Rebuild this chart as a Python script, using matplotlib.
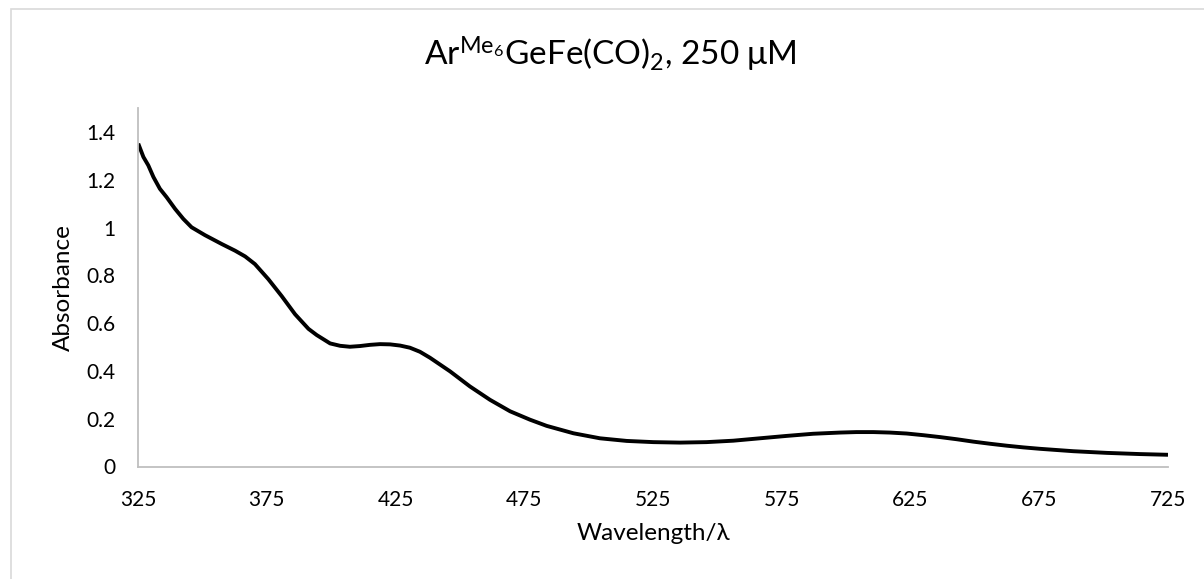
import numpy as np
import matplotlib
matplotlib.use('Agg')
import matplotlib.pyplot as plt
from matplotlib.patches import Rectangle

plt.rcParams['font.family'] = ['Lato', 'DejaVu Sans']
plt.rcParams['mathtext.fontset'] = 'custom'
plt.rcParams['mathtext.rm'] = 'Lato'
plt.rcParams['mathtext.it'] = 'Lato:italic'

# spectrum
wavelength = [325.1, 327.1, 329, 331, 333.5, 336.1, 339.4, 342.6, 345.8, 351,
              357.5, 362.7, 366.6, 370.4, 375.6, 380.8, 386, 391.2, 394.4, 399.6,
              403.5, 407.3, 411.2, 415.1, 419, 422.9, 426.8, 430.6, 434.5, 438.4,
              446.2, 453.9, 461.7, 469.5, 477.2, 483.7, 494.1, 504.4, 514.8, 525.1,
              535.5, 545.8, 556.2, 566.5, 576.9, 587.2, 597.6, 604, 610.6, 617,
              623.5, 630, 636.5, 643, 649.4, 656, 662.4, 668.8, 675.3, 688.2,
              701.2, 714.1, 725]
absorbance = [1.351, 1.295, 1.26, 1.211, 1.162, 1.127, 1.078, 1.036, 1.001, 0.968,
              0.931, 0.903, 0.879, 0.847, 0.784, 0.713, 0.637, 0.576, 0.55, 0.515,
              0.505, 0.501, 0.504, 0.509, 0.512, 0.511, 0.506, 0.497, 0.48, 0.455,
              0.398, 0.335, 0.279, 0.231, 0.196, 0.170, 0.139, 0.118, 0.107, 0.102,
              0.100, 0.102, 0.108, 0.118, 0.128, 0.137, 0.142, 0.144, 0.144, 0.142,
              0.138, 0.131, 0.123, 0.114, 0.104, 0.095, 0.087, 0.080, 0.074, 0.064,
              0.057, 0.052, 0.049]

xticks = [325, 375, 425, 475, 525, 575, 625, 675, 725]
yticks = [0, 0.2, 0.4, 0.6, 0.8, 1, 1.2, 1.4]
ytick_labels = ['0', '0.2', '0.4', '0.6', '0.8', '1', '1.2', '1.4']

fig = plt.figure(figsize=(12.04, 5.79), dpi=100)
ax = fig.add_axes([138/1204, 1 - 466.5/579, (1168 - 138)/1204, (466.5 - 108)/579])

ax.plot(wavelength, absorbance, color='black', lw=2.8,
        solid_joinstyle='round', solid_capstyle='butt')

ax.set_xlim(325, 725)
ax.set_ylim(0, 1.5)
ax.set_xticks(xticks)
ax.set_yticks(yticks)
ax.set_yticklabels(ytick_labels)
ax.tick_params(length=0, labelsize=15, colors='black')
ax.tick_params(axis='x', pad=17)
ax.tick_params(axis='y', pad=16)
for s in ['top', 'right']:
    ax.spines[s].set_visible(False)
for s in ['left', 'bottom']:
    ax.spines[s].set_color('#BFBFBF')
    ax.spines[s].set_linewidth(1.3)

ax.set_xlabel('Wavelength/λ', fontsize=17.5, labelpad=9)
ax.set_ylabel('Absorbance', fontsize=17.5, labelpad=9)

fig.text(610/1204, 1 - 54/579, r'Ar$^{\mathrm{Me_6}}$GeFe(CO)$_{2}$, 250 μM',
         ha='center', va='center', fontsize=24)

fig.patches.append(Rectangle((11/1204, -0.1), 1.2, 0.1 + 1 - 9.5/579,
                             transform=fig.transFigure, fill=False,
                             edgecolor='#D9D9D9', lw=1.2))

fig.savefig('out.png', dpi=100)
